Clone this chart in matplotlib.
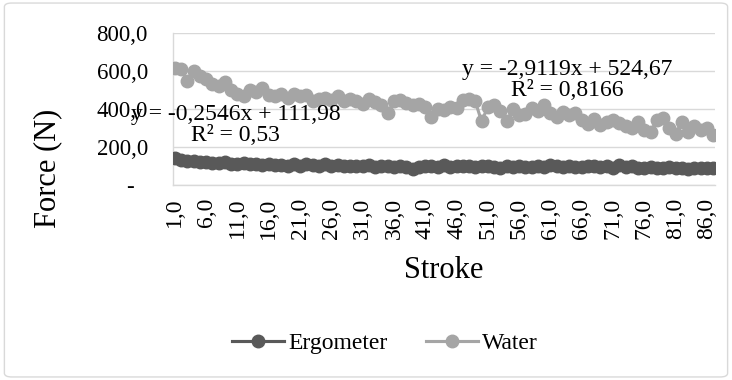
import numpy as np
import matplotlib
matplotlib.use('Agg')
import matplotlib.pyplot as plt
from matplotlib.patches import FancyBboxPatch
from matplotlib.transforms import ScaledTranslation

plt.rcParams['font.family'] = ['Liberation Serif', 'DejaVu Serif']

# data
stroke = np.arange(1, 88)
ergometer = [140, 130, 125, 128, 122, 120, 118, 115, 120, 112,
             110, 115, 108, 110, 105, 108, 104, 106, 102, 108,
             100, 110, 105, 102, 108, 100, 104, 98, 102, 100,
             98, 104, 96, 100, 98, 95, 102, 96, 85, 95,
             98, 100, 95, 104, 96, 100, 98, 102, 95, 98,
             100, 96, 92, 98, 95, 100, 94, 97, 100, 95,
             105, 98, 95, 100, 96, 94, 98, 100, 95, 98,
             92, 104, 95, 98, 92, 88, 95, 92, 90, 94,
             88, 92, 86, 90, 88, 92, 90]
water = [615, 610, 545, 600, 575, 560, 530, 520, 540, 500,
         480, 470, 500, 490, 510, 475, 470, 480, 460, 480,
         470, 475, 440, 455, 460, 445, 470, 440, 455, 440,
         425, 450, 435, 420, 380, 440, 445, 430, 420, 425,
         410, 360, 400, 395, 410, 405, 445, 455, 440, 335,
         410, 420, 390, 335, 400, 370, 375, 405, 390, 420,
         380, 360, 385, 370, 380, 340, 320, 345, 315, 330,
         340, 325, 310, 300, 330, 290, 280, 340, 350, 300,
         270, 330, 280, 310, 290, 300, 265]
yticks = [0, 200, 400, 600, 800]
ytick_labels = ['-', '200,0', '400,0', '600,0', '800,0']
xticks = np.arange(1, 88, 5)
xtick_labels = ['%d,0' % v for v in xticks]
eq_ergo = 'y = -0,2546x + 111,98\nR² = 0,53'
eq_water = 'y = -2,9119x + 524,67\nR² = 0,8166'

fig = plt.figure(figsize=(7.32, 3.8), dpi=100)
fig.patches.append(FancyBboxPatch((0.006, 0.008), 0.988, 0.984, boxstyle='round,pad=0,rounding_size=0.01',
                                  transform=fig.transFigure, fill=False, ec='#D9D9D9', lw=1, zorder=-1))
ax = fig.add_axes([0.2363, 0.5132, 0.7405, 0.4])

ax.plot(stroke, ergometer, color='#595959', lw=2.25, marker='o', ms=9, label='Ergometer', zorder=3)
ax.plot(stroke, water, color='#A5A5A5', lw=2.25, marker='o', ms=9, label='Water', zorder=3)

ax.text(10.7, 318, eq_ergo, ha='center', va='center', fontsize=17, linespacing=1.0, zorder=4)
ax.text(63.7, 554, eq_water, ha='center', va='center', fontsize=17, linespacing=1.0, zorder=4)

ax.set_xlim(0.7, 87.3)
ax.set_ylim(0, 800)
ax.set_yticks(yticks)
ax.set_yticklabels(ytick_labels, fontsize=16.5)
ax.set_xticks(xticks)
ax.set_xticklabels(xtick_labels, rotation=90, fontsize=17)
ax.tick_params(length=0, pad=18, axis='y')
ax.tick_params(length=0, pad=9, axis='x')
# dash for zero sits a bit left like Excel's accounting format
lab0 = ax.get_yticklabels()[0]
lab0.set_transform(lab0.get_transform() + ScaledTranslation(-14 / 100, 0, fig.dpi_scale_trans))

ax.grid(axis='y', color='#D9D9D9', lw=1)
ax.set_axisbelow(True)
for s in ['top', 'right']:
    ax.spines[s].set_visible(False)
for s in ['left', 'bottom']:
    ax.spines[s].set_color('#D9D9D9')
    ax.spines[s].set_linewidth(1)

fig.text(48 / 732, 1 - 168 / 380, 'Force (N)', fontsize=22, rotation=90, ha='center', va='center')
fig.text(444 / 732, 1 - 270 / 380, 'Stroke', fontsize=22, ha='center', va='center')

fig.legend(loc='center', bbox_to_anchor=(0.526, 0.097), ncol=2, frameon=False, fontsize=17,
           handlelength=2.2, columnspacing=1.6, handletextpad=0.2)

fig.savefig('out.png', dpi=100)
